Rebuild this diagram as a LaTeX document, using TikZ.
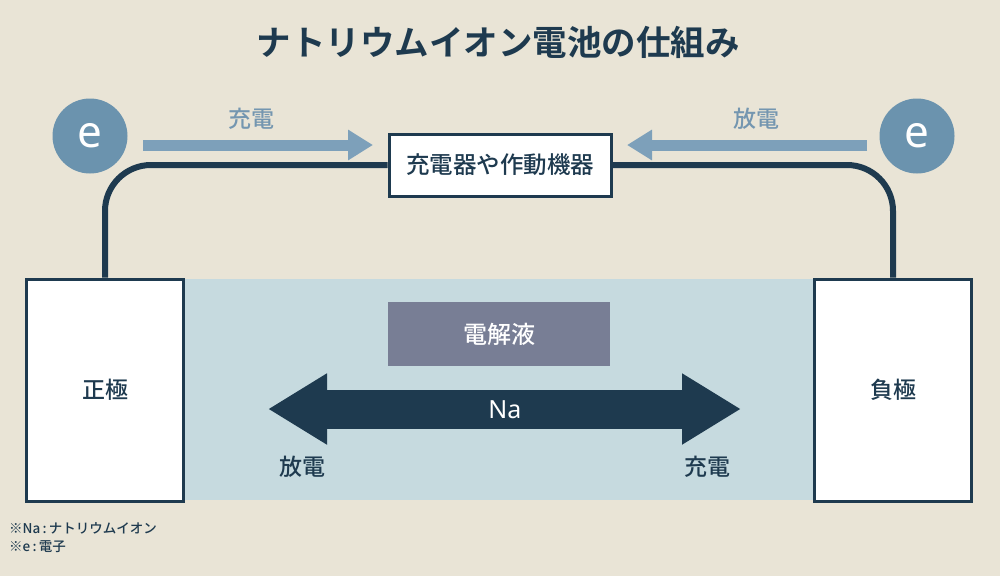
\documentclass[tikz,border=0pt]{standalone}
\usepackage{fontspec}
\setmainfont{Noto Sans CJK JP Medium}
\newfontfamily\jpbold{Noto Sans CJK JP Bold}
\newfontfamily\latreg{Noto Sans}
\usetikzlibrary{arrows.meta}
\definecolor{bg}{HTML}{E9E4D6}
\definecolor{navy}{HTML}{1E3A4F}
\definecolor{ecirc}{HTML}{6B93AE}
\definecolor{flow}{HTML}{7DA0BA}
\definecolor{flowtxt}{HTML}{7496B0}
\definecolor{electro}{HTML}{C6DADF}
\definecolor{elbox}{HTML}{787E95}
\tikzset{
  electrode/.style={draw=navy, line width=3pt, fill=white, minimum width=157pt, minimum height=222pt, inner sep=0pt, font=\fontsize{23}{24}\selectfont, text=navy},
  device/.style={draw=navy, line width=3pt, fill=white, minimum width=222pt, minimum height=62pt, inner sep=0pt, font=\fontsize{23.5}{24}\selectfont, text=navy},
  ecircle/.style={circle, fill=ecirc, minimum size=75pt, inner sep=0pt, text=white, font=\fontsize{44}{44}\selectfont\latreg},
  wire/.style={draw=navy, line width=6pt, rounded corners=46pt},
  flowarrow/.style={draw=flow, line width=11pt, -{Triangle[width=29pt,length=25pt]}},
  flowlabel/.style={text=flowtxt, font=\fontsize{23}{24}\selectfont},
  sidelabel/.style={text=navy, font=\fontsize{23}{24}\selectfont},
  note/.style={text=navy, font=\fontsize{13.5}{14}\selectfont, anchor=west, inner sep=0pt},
}
\begin{document}
\begin{tikzpicture}[x=1pt, y=-1pt]
\fill[bg] (0,0) rectangle (1000,576);
\useasboundingbox (0,0) rectangle (1000,576);

% title
\node[text=navy, font=\fontsize{34.5}{36}\selectfont\jpbold] (title) at (498,42) {ナトリウムイオン電池の仕組み};

% electrolyte region
\fill[electro] (185,279) rectangle (814,500);

% electrodes
\node[electrode] (pos) at (105,390) {正極};
\node[electrode] (neg) at (893,390) {負極};

% device
\node[device] (dev) at (500,165) {充電器や作動機器};

% wires
\draw[wire] (dev.west) -| (pos.north);
\draw[wire] (dev.east) -| (neg.north);

% electrons
\node[ecircle] (eL) at (90,136) {e};
\node[ecircle] (eR) at (917,136) {e};

% flow arrows
\coordinate (aLs) at (143,145);
\coordinate (aLe) at (373,145);
\coordinate (aRs) at (867,145);
\coordinate (aRe) at (627,145);
\draw[flowarrow] (aLs) -- (aLe);
\draw[flowarrow] (aRs) -- (aRe);
\node[flowlabel] (lchg) at (251,119) {充電};
\node[flowlabel] (ldis) at (756,119) {放電};

% electrolyte label
\node[fill=elbox, minimum width=222pt, minimum height=64pt, inner sep=0pt, text=white, font=\fontsize{24}{25}\selectfont] (ely) at (499,334) {電解液};

% Na double arrow
\coordinate (naL) at (268,409);
\coordinate (naR) at (741,409);
\draw[navy, line width=39pt, {Triangle[width=67pt,length=59pt]}-{Triangle[width=67pt,length=59pt]}] (naL) -- (naR);
\node[text=white, font=\fontsize{25}{26}\selectfont\latreg] (na) at (505,410) {Na};

\node[sidelabel] (dis) at (302,467) {放電};
\node[sidelabel] (chg) at (707,467) {充電};

% notes
\node[note] (n1) at (9,528) {※Na\,:\,ナトリウムイオン};
\node[note] (n2) at (9,547) {※e\,:\,電子};
\end{tikzpicture}
\end{document}
